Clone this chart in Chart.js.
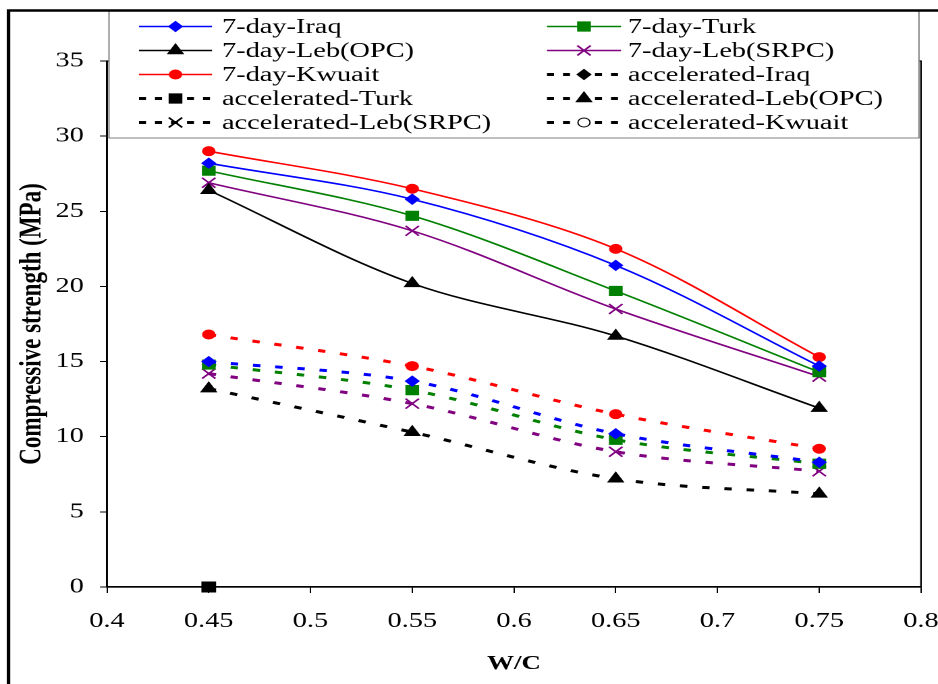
<!DOCTYPE html>
<html>
<head>
<meta charset="utf-8">
<title>Compressive strength vs W/C</title>
<script src="https://cdn.jsdelivr.net/npm/chart.js@4.4.1/dist/chart.umd.min.js"></script>
<style>
  html, body { margin: 0; padding: 0; background: #fff; overflow: hidden; }
  /* the chart is drawn narrower and stretched sideways, like the printed figure */
  #wrap { position: absolute; left: 0; top: 0; width: 695px; height: 684px;
          transform: scaleX(1.3496); transform-origin: 0 0; }
</style>
</head>
<body>
<div id="wrap"><canvas id="strengthChart" width="695" height="684"></canvas></div>
<script>
// W/C ratios tested
const wc = [0.45, 0.55, 0.65, 0.75];
const xTicks = [0.4, 0.45, 0.5, 0.55, 0.6, 0.65, 0.7, 0.75, 0.8];
const yTicks = [0, 5, 10, 15, 20, 25, 30, 35];

// 7-day compressive strength (MPa)
const day7Iraq = [28.2, 25.8, 21.4, 14.7];
const day7Turk = [27.7, 24.7, 19.7, 14.3];
const day7LebOPC = [26.4, 20.2, 16.7, 11.9];
const day7LebSRPC = [26.9, 23.7, 18.5, 14.0];
const day7Kwuait = [29.0, 26.5, 22.5, 15.3];

// accelerated curing strength (MPa)
const accIraq = [15.0, 13.7, 10.2, 8.3];
const accTurk = [14.8, 13.1, 9.8, 8.2];
const accLebOPC = [13.2, 10.3, 7.2, 6.2];
const accLebSRPC = [14.2, 12.2, 9.0, 7.7];
const accKwuait = [16.8, 14.7, 11.5, 9.2];

// lone marker sitting on the axis at W/C 0.45
const strayWc = [0.45];
const strayVal = [0];

const SX = 938 / 695;
const px = v => v / SX; // page x -> canvas x
const SERIF = '"Liberation Serif", "Times New Roman", serif';

function pts(xs, ys) {
  return xs.map((x, i) => ({ x: x, y: ys[i] }));
}

function solid(label, values, color, style, radius) {
  return {
    label: label,
    data: pts(wc, values),
    borderColor: color,
    backgroundColor: color,
    borderWidth: 1.6,
    tension: 0.33,
    pointStyle: style,
    pointRadius: radius,
    pointBorderWidth: style === 'crossRot' ? 1.5 : 1,
    pointBackgroundColor: color,
    pointBorderColor: color
  };
}

function dashed(label, values, color, style, radius, legendFill) {
  const ds = solid(label, values, color, style, radius);
  ds.borderWidth = 3;
  ds.borderDash = [5.5, 11];
  ds.legendColor = '#000';
  ds.legendFill = legendFill || '#000';
  return ds;
}

const datasets = [
  solid('7-day-Iraq', day7Iraq, '#0000ff', 'rectRot', 5),
  solid('7-day-Turk', day7Turk, '#008000', 'rect', 6.5),
  solid('7-day-Leb(OPC)', day7LebOPC, '#000000', 'triangle', 6.5),
  solid('7-day-Leb(SRPC)', day7LebSRPC, '#800080', 'crossRot', 7),
  solid('7-day-Kwuait', day7Kwuait, '#ff0000', 'circle', 4.5),
  dashed('accelerated-Iraq', accIraq, '#0000ff', 'rectRot', 5),
  dashed('accelerated-Turk', accTurk, '#008000', 'rect', 6.5),
  dashed('accelerated-Leb(OPC)', accLebOPC, '#000000', 'triangle', 6.5),
  dashed('accelerated-Leb(SRPC)', accLebSRPC, '#800080', 'crossRot', 7),
  dashed('accelerated-Kwuait', accKwuait, '#ff0000', 'circle', 4.5, '#fff'),
  {
    label: '',
    data: pts(strayWc, strayVal),
    showLine: false,
    pointStyle: 'rect',
    pointRadius: 7,
    pointBackgroundColor: '#000',
    pointBorderColor: '#000'
  }
];

// plot frame (the top edge ends up under the legend box)
const plotFrame = {
  id: 'plotFrame',
  beforeDatasetsDraw(chart) {
    const a = chart.chartArea;
    const ctx = chart.ctx;
    ctx.save();
    ctx.strokeStyle = '#000';
    ctx.lineWidth = 1.2;
    ctx.strokeRect(a.left, a.top, a.right - a.left, a.bottom - a.top);
    ctx.restore();
  }
};

// two-column boxed legend, accelerated entries shown in black
const boxLegend = {
  id: 'boxLegend',
  afterDraw(chart) {
    const ctx = chart.ctx;
    const h = Chart.helpers;
    const left = px(109), right = px(919), top = 10, bottom = 138;
    ctx.save();
    ctx.fillStyle = '#fff';
    ctx.fillRect(left, top, right - left, bottom - top);
    ctx.strokeStyle = '#808080';
    ctx.lineWidth = 1;
    ctx.strokeRect(left, top, right - left, bottom - top);

    const lineX0 = [139, 547], lineX1 = [212, 621], textX = [222, 628];
    ctx.font = '21px ' + SERIF;
    ctx.textBaseline = 'middle';
    ctx.textAlign = 'left';
    chart.data.datasets.filter(d => d.label).forEach((ds, i) => {
      const col = i % 2, row = Math.floor(i / 2);
      const y = 26.5 + row * 24;
      const x0 = px(lineX0[col]), x1 = px(lineX1[col]);
      const color = ds.legendColor || ds.borderColor;
      ctx.strokeStyle = color;
      ctx.lineWidth = ds.borderDash ? 3 : ds.borderWidth;
      ctx.setLineDash(ds.borderDash ? [px(7), px(9)] : []);
      ctx.beginPath();
      ctx.moveTo(x0, y);
      ctx.lineTo(x1, y);
      ctx.stroke();
      ctx.setLineDash([]);
      ctx.fillStyle = ds.legendFill || color;
      ctx.strokeStyle = color;
      ctx.lineWidth = ds.pointBorderWidth;
      h.drawPoint(ctx, { pointStyle: ds.pointStyle, radius: ds.pointRadius, rotation: 0,
        borderWidth: ds.pointBorderWidth }, (x0 + x1) / 2, y);
      ctx.fillStyle = '#000';
      ctx.fillText(ds.label, px(textX[col]), y + 1);
    });

    // outer figure border, top and left
    ctx.strokeStyle = '#000';
    ctx.lineWidth = 2.6;
    ctx.beginPath();
    ctx.moveTo(px(8.5), 684);
    ctx.lineTo(px(8.5), 10.5);
    ctx.lineTo(695, 10.5);
    ctx.stroke();
    ctx.restore();
  }
};

const tickFont = { family: SERIF, size: 21 };

new Chart(document.getElementById('strengthChart'), {
  type: 'line',
  data: { datasets: datasets },
  options: {
    responsive: false,
    animation: false,
    devicePixelRatio: 2,
    clip: false,
    layout: { padding: { top: 61, right: 695 - px(921), bottom: 0, left: 0 } },
    plugins: { legend: { display: false }, tooltip: { enabled: false } },
    scales: {
      x: {
        type: 'linear',
        min: 0.4,
        max: 0.8,
        afterBuildTicks: s => { s.ticks = xTicks.map(v => ({ value: v })); },
        afterFit: s => { s.height = 684 - 587; s.paddingLeft = 0; s.paddingRight = 0; },
        ticks: { font: tickFont, color: '#000', padding: 16, maxRotation: 0, autoSkip: false,
          callback: v => String(v) },
        grid: { drawOnChartArea: false, drawTicks: true, tickLength: 6, color: '#000' },
        border: { color: '#000', width: 1.6 },
        title: { display: true, text: 'W/C', color: '#000',
          font: { family: SERIF, size: 20, weight: 'bold' }, padding: { top: 0, bottom: 8 } }
      },
      y: {
        min: 0,
        max: 35,
        afterBuildTicks: s => { s.ticks = yTicks.map(v => ({ value: v })); },
        afterFit: s => { s.width = px(107); s.paddingTop = 0; s.paddingBottom = 0; },
        ticks: { font: tickFont, color: '#000', padding: 12 },
        grid: { drawOnChartArea: false, drawTicks: true, tickLength: 5.2, color: '#000' },
        border: { color: '#000', width: 1.4 },
        title: { display: true, text: 'Compressive strength (MPa)', color: '#000',
          font: { family: SERIF, size: 23, weight: 'bold' }, padding: { top: 10.5, bottom: 0 } }
      }
    }
  },
  plugins: [plotFrame, boxLegend]
});
</script>
</body>
</html>
